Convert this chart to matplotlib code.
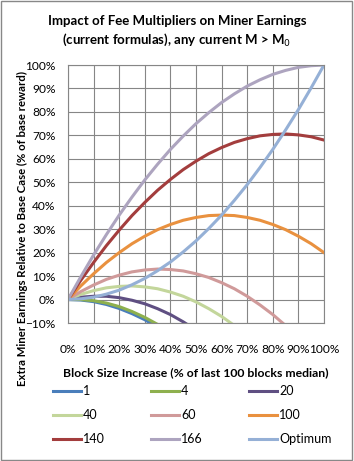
import matplotlib
matplotlib.use("Agg")
import matplotlib.pyplot as plt
from matplotlib.patches import Rectangle
from matplotlib.ticker import MultipleLocator, PercentFormatter

plt.rcParams['font.family'] = ['Lato', 'DejaVu Sans']

# block size increase, % of median
x = [0, 5, 10, 15, 20, 25, 30, 35, 40, 45, 50, 55, 60, 65, 70, 75, 80, 85, 90, 95, 100]

# extra miner earnings, % of base reward, per fee multiplier
m1 = [0, -0.2, -0.9, -2.1, -3.8, -6.0, -8.6, -11.8]
m4 = [0, 0.0, -0.5, -1.5, -3.0, -5.1, -7.6, -10.6]
m20 = [0, 1.0, 1.4, 1.4, 0.8, -0.3, -1.8, -3.9, -6.4, -9.5, -13.0]
m40 = [0, 2.2, 3.8, 5.0, 5.6, 5.8, 5.4, 4.6, 3.2, 1.4, -1.0, -3.9, -7.2, -11.1]
m60 = [0, 3.4, 6.2, 8.6, 10.4, 11.8, 12.6, 13.0, 12.8, 12.2, 11.0, 9.4, 7.2, 4.6,
       1.4, -2.3, -6.4, -11.1]
m100 = [0, 5.8, 11.0, 15.8, 20.0, 23.8, 27.0, 29.8, 32.0, 33.8, 35.0, 35.8, 36.0,
        35.8, 35.0, 33.8, 32.0, 29.8, 27.0, 23.8, 20.0]
m140 = [0, 8.2, 15.8, 23.0, 29.6, 35.8, 41.4, 46.6, 51.2, 55.4, 59.0, 62.2, 64.8,
        67.0, 68.6, 69.8, 70.4, 70.6, 70.2, 69.4, 68.0]
m166 = [0, 9.7, 19.0, 27.7, 36.0, 43.7, 51.0, 57.7, 64.0, 69.7, 75.0, 79.7, 84.0,
        87.7, 91.0, 93.7, 96.0, 97.7, 99.0, 99.7, 100.0]
optimum = [0, 0.3, 1.0, 2.3, 4.0, 6.3, 9.0, 12.3, 16.0, 20.3, 25.0, 30.3, 36.0,
           42.3, 49.0, 56.3, 64.0, 72.3, 81.0, 90.3, 100.0]

series = [
    ("1", m1, "#4A7EBB"),
    ("4", m4, "#8EB04E"),
    ("20", m20, "#5F4F82"),
    ("40", m40, "#C3D69B"),
    ("60", m60, "#D09A9A"),
    ("100", m100, "#E9913F"),
    ("140", m140, "#A33D3D"),
    ("166", m166, "#ADA4BF"),
    ("Optimum", optimum, "#95B0D6"),
]

fig = plt.figure(figsize=(3.54, 4.61), dpi=100)
ax = fig.add_axes([68 / 354, 1 - 323 / 461, 256 / 354, 258 / 461])

for name, vals, col in series:
    ax.plot(x[:len(vals)], vals, color=col, lw=2.2, label=name)

ax.set_xlim(0, 100)
ax.set_ylim(-10, 100)
ax.xaxis.set_major_locator(MultipleLocator(10))
ax.yaxis.set_major_locator(MultipleLocator(10))
ax.xaxis.set_major_formatter(PercentFormatter(decimals=0))
ax.yaxis.set_major_formatter(PercentFormatter(decimals=0))
ax.grid(True, color="#868686", lw=0.8)
ax.set_axisbelow(True)
for s in ax.spines.values():
    s.set_color("#868686")
    s.set_linewidth(0.8)
ax.tick_params(length=0, labelsize=8.6)
ax.tick_params(axis="x", pad=15)
ax.tick_params(axis="y", pad=9)

ax.set_xlabel("Block Size Increase (% of last 100 blocks median)",
              fontsize=8.8, fontweight="bold", labelpad=9)
fig.text(22 / 354, 1 - 228 / 461, "Extra Miner Earnings Relative to Base Case (% of base reward)",
         rotation=90, fontsize=8.2, fontweight="bold", ha="center", va="center")

fig.suptitle("Impact of Fee Multipliers on Miner Earnings\n(current formulas), any current M > M$_0$",
             y=0.968, fontsize=9.5, fontweight="bold", linespacing=1.4)

# legend: three single-column blocks so entries run row by row
h, l = ax.get_legend_handles_labels()
for c, x0 in enumerate([42, 140, 238]):
    idx = [c, c + 3, c + 6]
    fig.legend([h[i] for i in idx], [l[i] for i in idx],
               loc="upper left", bbox_to_anchor=(x0 / 354, 1 - 374 / 461), ncol=1,
               frameon=False, fontsize=9, handlelength=2.2, handletextpad=0.2,
               labelspacing=0.95)

fig.patches.append(Rectangle((0.004, 0.003), 0.99, 0.994, transform=fig.transFigure,
                             fill=False, edgecolor="#888888", lw=1))

fig.savefig("out.png", dpi=100)
